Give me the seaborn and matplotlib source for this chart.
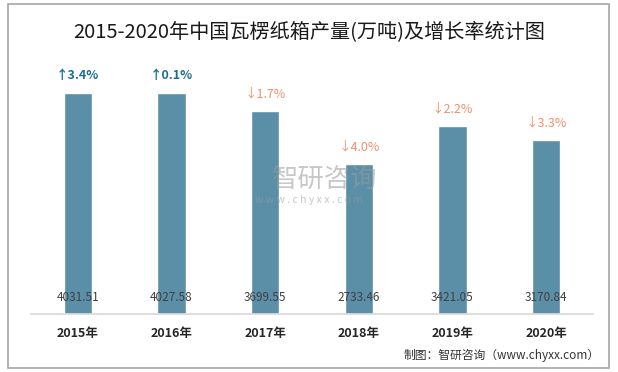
import matplotlib
matplotlib.use("Agg")
import matplotlib.pyplot as plt
import seaborn as sns
import pandas as pd
from matplotlib.patches import Rectangle

years = ["2015年", "2016年", "2017年", "2018年", "2019年", "2020年"]
output = [4031.51, 4027.58, 3699.55, 2733.46, 3421.05, 3170.84]
growth = ["↑3.4%", "↑0.1%", "↓1.7%", "↓4.0%", "↓2.2%", "↓3.3%"]
title = "2015-2020年中国瓦楞纸箱产量(万吨)及增长率统计图"
source = "制图：智研咨询（www.chyxx.com）"

sns.set_theme(style="white")
plt.rcParams["font.family"] = ["Noto Sans CJK SC", "DejaVu Sans"]

df = pd.DataFrame({"year": years, "output": output})

fig = plt.figure(figsize=(6.18, 3.72), dpi=100)
fig.patch.set_facecolor("white")
fig.add_artist(Rectangle((8/618, 4/372), 601/618, 364/372, transform=fig.transFigure,
                         fill=False, edgecolor="#a6a6a6", linewidth=1.2))

ax = fig.add_axes([31/618, 1-314/372, 562/618, 247/372])
sns.barplot(data=df, x="year", y="output", color="#5b8fa8", saturation=1,
            width=0.3, ax=ax)
ax.set_ylim(0, 4500)
ax.set_xlim(-0.5, 5.5)
ax.set_yticks([])
ax.set_xlabel("")
ax.set_ylabel("")
for s in ["top", "left", "right"]:
    ax.spines[s].set_visible(False)
ax.spines["bottom"].set_color("#d9d9d9")
ax.spines["bottom"].set_linewidth(1.2)
ax.tick_params(axis="x", length=0, pad=9)
for lbl in ax.get_xticklabels():
    lbl.set_fontsize(9)
    lbl.set_fontweight("bold")
    lbl.set_color("#262626")

for i, (v, g) in enumerate(zip(output, growth)):
    ax.text(i, 300, f"{v:.2f}", ha="center", va="center", fontsize=8.5, color="#404040")
    up = g.startswith("↑")
    ax.text(i, v + 200, g, ha="center", va="bottom", fontsize=9,
            color="#1f6e91" if up else "#f0906c", fontweight="bold" if up else "normal")

# watermark
fig.text(0.525, 0.518, "智研咨询", ha="center", va="center", fontsize=19,
         color="#9a9a9a", alpha=0.55)
fig.text(0.5, 0.462, "w w w . c h y x x . c o m", ha="center", va="center", fontsize=7.5,
         color="#9a9a9a", alpha=0.55)

fig.text(0.5, 0.915, title, ha="center", va="center", fontsize=14.5, color="#1a1a1a")
fig.text(0.97, 0.045, source, ha="right", va="center", fontsize=8.5, color="#333333")

fig.savefig("out.png", dpi=100)
